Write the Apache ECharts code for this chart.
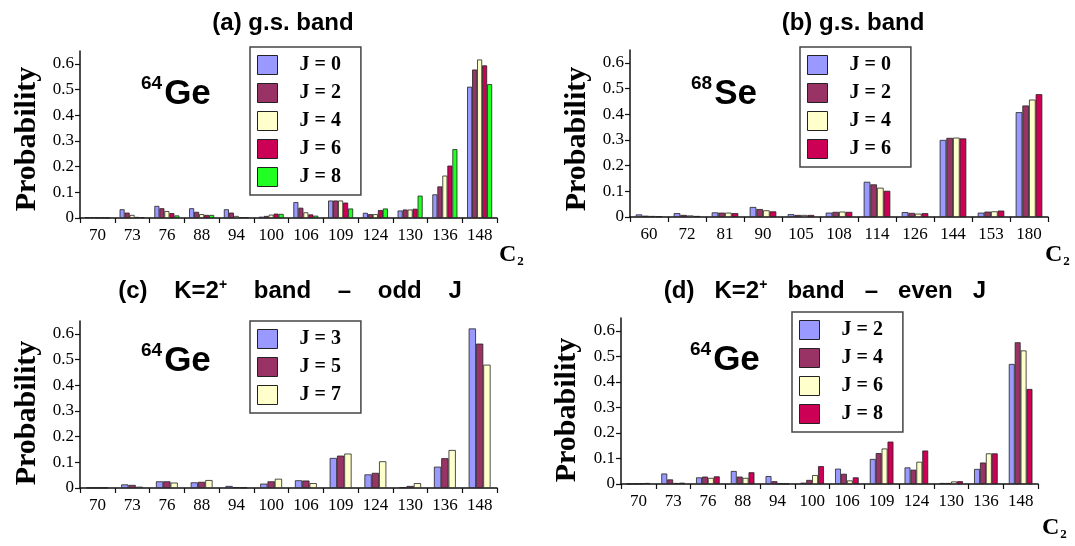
<!DOCTYPE html>
<html>
<head>
<meta charset="utf-8">
<script src="https://cdn.jsdelivr.net/npm/echarts@6/dist/echarts.min.js"></script>
<style>
  html, body { margin: 0; padding: 0; background: #fff; }
  .panel { position: absolute; }
</style>
</head>
<body>
<div id="pa" class="panel" style="left:0;top:0;width:537px;height:273px"></div>
<div id="pb" class="panel" style="left:537px;top:0;width:538px;height:273px"></div>
<div id="pc" class="panel" style="left:0;top:273px;width:537px;height:273px"></div>
<div id="pd" class="panel" style="left:537px;top:273px;width:538px;height:273px"></div>
<script>
// categories (C2 labels)
var geCats = ['70', '73', '76', '88', '94', '100', '106', '109', '124', '130', '136', '148'];
var seCats = ['60', '72', '81', '90', '105', '108', '114', '126', '144', '153', '180'];
var yTicks = [0, 0.1, 0.2, 0.3, 0.4, 0.5, 0.6];

// (a) 64Ge ground-state band
var geGs_J0 = [0.003, 0.034, 0.047, 0.038, 0.034, 0.005, 0.062, 0.068, 0.020, 0.029, 0.092, 0.511];
var geGs_J2 = [0.003, 0.021, 0.038, 0.024, 0.021, 0.008, 0.040, 0.068, 0.015, 0.033, 0.123, 0.578];
var geGs_J4 = [0.002, 0.012, 0.027, 0.015, 0.008, 0.013, 0.022, 0.068, 0.015, 0.033, 0.165, 0.617];
var geGs_J6 = [0.002, 0.004, 0.019, 0.012, 0.003, 0.017, 0.014, 0.060, 0.031, 0.036, 0.204, 0.594];
var geGs_J8 = [0.001, 0.003, 0.010, 0.012, 0.003, 0.016, 0.009, 0.037, 0.037, 0.087, 0.268, 0.521];

// (b) 68Se ground-state band
var seGs_J0 = [0.010, 0.015, 0.018, 0.039, 0.011, 0.017, 0.137, 0.019, 0.300, 0.017, 0.408];
var seGs_J2 = [0.005, 0.008, 0.017, 0.031, 0.008, 0.020, 0.127, 0.016, 0.308, 0.021, 0.434];
var seGs_J4 = [0.004, 0.006, 0.017, 0.026, 0.008, 0.021, 0.114, 0.013, 0.309, 0.022, 0.457];
var seGs_J6 = [0.003, 0.004, 0.015, 0.022, 0.008, 0.020, 0.102, 0.015, 0.306, 0.025, 0.478];

// (c) 64Ge K=2+ band, odd J
var geOdd_J3 = [0.001, 0.014, 0.026, 0.022, 0.008, 0.017, 0.030, 0.117, 0.053, 0.003, 0.083, 0.621];
var geOdd_J5 = [0.001, 0.012, 0.026, 0.024, 0.003, 0.026, 0.029, 0.126, 0.059, 0.008, 0.116, 0.562];
var geOdd_J7 = [0.001, 0.005, 0.021, 0.031, 0.002, 0.036, 0.019, 0.134, 0.104, 0.019, 0.148, 0.480];

// (d) 64Ge K=2+ band, even J
var geEven_J2 = [0.001, 0.041, 0.026, 0.051, 0.031, 0.005, 0.060, 0.098, 0.065, 0.004, 0.059, 0.470];
var geEven_J4 = [0.001, 0.018, 0.029, 0.029, 0.011, 0.016, 0.040, 0.121, 0.056, 0.004, 0.084, 0.555];
var geEven_J6 = [0.002, 0.004, 0.024, 0.024, 0.002, 0.035, 0.014, 0.139, 0.087, 0.010, 0.120, 0.523];
var geEven_J8 = [0.004, 0.005, 0.030, 0.046, 0.001, 0.070, 0.026, 0.166, 0.131, 0.011, 0.120, 0.372];

var BLUE = '#9999FF', MAROON = '#993366', CREAM = '#FFFFCC', CRIMSON = '#CC0055', GREEN = '#22FF22';
var SERIF = '"Liberation Serif", "Times New Roman", serif';
var SANS = '"Liberation Sans", Arial, sans-serif';

function makePanel(id, p) {
    var chart = echarts.init(document.getElementById(id), null, {renderer: 'canvas'});

    var series = p.series.map(function (s) {
        return {
            name: s.name,
            type: 'bar',
            data: s.data,
            barGap: '0%',
            barCategoryGap: p.gap,
            itemStyle: {color: s.color, borderColor: '#222', borderWidth: 0.8},
            animation: false
        };
    });

    var graphics = [
        // nucleus label
        {
            type: 'text', left: p.nuc[0], top: p.nuc[1],
            style: {
                text: '{s|' + p.nucA + '}{e|' + p.nucE + '}',
                rich: {
                    s: {fontFamily: SANS, fontWeight: 'bold', fontSize: 19, verticalAlign: 'top', lineHeight: 40, padding: [0, 2, 17, 0]},
                    e: {fontFamily: SANS, fontWeight: 'bold', fontSize: 35, lineHeight: 40}
                }
            }
        },
        // y axis name
        {
            type: 'text', x: p.yName[0], y: p.yName[1], rotation: Math.PI / 2,
            style: {
                text: 'Probability', fontFamily: SERIF, fontWeight: 'bold', fontSize: 30,
                fill: '#000', align: 'center', verticalAlign: 'middle'
            }
        }
    ];
    if (p.c2) {
        graphics.push({
            type: 'text', left: p.c2[0], top: p.c2[1],
            style: {
                text: '{c|C}{n|2}',
                rich: {
                    c: {fontFamily: SERIF, fontWeight: 'bold', fontSize: 24, lineHeight: 26},
                    n: {fontFamily: SERIF, fontWeight: 'bold', fontSize: 13, lineHeight: 26, padding: [14, 0, 0, 1]}
                }
            }
        });
    }

    var option = {
        backgroundColor: '#fff',
        title: {
            text: p.title,
            left: p.titleX, top: p.titleY,
            textAlign: 'center',
            textStyle: {
                rich: {
                    t: {fontFamily: SANS, fontWeight: 'bold', fontSize: 24, color: '#000'},
                    u: {fontFamily: SANS, fontWeight: 'bold', fontSize: 14, color: '#000', padding: [0, 0, 12, 0]}
                }
            }
        },
        legend: {
            orient: 'vertical',
            left: p.legend[0], top: p.legend[1],
            data: p.series.map(function (s) { return s.name; }),
            icon: 'rect',
            itemWidth: 20, itemHeight: 19, itemGap: 8,
            padding: [8, 20, 8, 7],
            borderColor: '#444', borderWidth: 1.5,
            backgroundColor: '#fff',
            selectedMode: false,
            itemStyle: {borderColor: '#222', borderWidth: 1},
            textStyle: {fontFamily: SERIF, fontWeight: 'bold', fontSize: 20, color: '#000', padding: [0, 0, 0, 17]}
        },
        grid: {left: p.grid[0], top: p.grid[1], right: p.grid[2], bottom: p.grid[3], containLabel: false},
        xAxis: {
            type: 'category',
            data: p.cats,
            axisLine: {lineStyle: {color: '#111', width: 1.5}},
            axisTick: {show: true, length: 5, lineStyle: {color: '#111', width: 1.2}},
            axisLabel: {fontFamily: SERIF, fontSize: 17, color: '#000', margin: 9, interval: 0}
        },
        yAxis: {
            type: 'value',
            min: 0, max: 0.65,
            splitLine: {show: false},
            axisLine: {show: true, lineStyle: {color: '#111', width: 1.5}},
            axisTick: {show: true, length: 5, customValues: yTicks, lineStyle: {color: '#111', width: 1.2}},
            axisLabel: {fontFamily: SERIF, fontSize: 17, color: '#000', margin: 6, customValues: yTicks}
        },
        graphic: graphics,
        series: series
    };
    chart.setOption(option);
    return chart;
}

makePanel('pa', {
    title: '{t|(a) g.s. band}', titleX: 278, titleY: 6,
    cats: geCats, gap: '28%',
    grid: [80, 51, 40, 55],
    legend: [250, 47],
    nucA: '64', nucE: 'Ge', nuc: [141, 74],
    yName: [27, 139],
    c2: [499, 241],
    series: [
        {name: 'J = 0', data: geGs_J0, color: BLUE},
        {name: 'J = 2', data: geGs_J2, color: MAROON},
        {name: 'J = 4', data: geGs_J4, color: CREAM},
        {name: 'J = 6', data: geGs_J6, color: CRIMSON},
        {name: 'J = 8', data: geGs_J8, color: GREEN}
    ]
});

makePanel('pb', {
    title: '{t|(b) g.s. band}', titleX: 311, titleY: 6,
    cats: seCats, gap: '30%',
    grid: [93, 50, 27, 56],
    legend: [263, 47],
    nucA: '68', nucE: 'Se', nuc: [154, 74],
    yName: [40, 139],
    c2: [508, 241],
    series: [
        {name: 'J = 0', data: seGs_J0, color: BLUE},
        {name: 'J = 2', data: seGs_J2, color: MAROON},
        {name: 'J = 4', data: seGs_J4, color: CREAM},
        {name: 'J = 6', data: seGs_J6, color: CRIMSON}
    ]
});

makePanel('pc', {
    title: '{t|(c)    K=2}{u|+}{t|    band    \u2013    odd    J}', titleX: 285, titleY: 0,
    cats: geCats, gap: '37%',
    grid: [80, 48, 40, 58],
    legend: [250, 48],
    nucA: '64', nucE: 'Ge', nuc: [141, 68],
    yName: [27, 140],
    c2: null,
    series: [
        {name: 'J = 3', data: geOdd_J3, color: BLUE},
        {name: 'J = 5', data: geOdd_J5, color: MAROON},
        {name: 'J = 7', data: geOdd_J7, color: CREAM}
    ]
});

makePanel('pd', {
    title: '{t|(d)   K=2}{u|+}{t|   band   \u2013   even   J}', titleX: 283, titleY: 0,
    cats: geCats, gap: '32%',
    grid: [84, 45, 37, 62],
    legend: [255, 39],
    nucA: '64', nucE: 'Ge', nuc: [153, 67],
    yName: [30, 137],
    c2: [505, 241],
    series: [
        {name: 'J = 2', data: geEven_J2, color: BLUE},
        {name: 'J = 4', data: geEven_J4, color: MAROON},
        {name: 'J = 6', data: geEven_J6, color: CREAM},
        {name: 'J = 8', data: geEven_J8, color: CRIMSON}
    ]
});
</script>
</body>
</html>
